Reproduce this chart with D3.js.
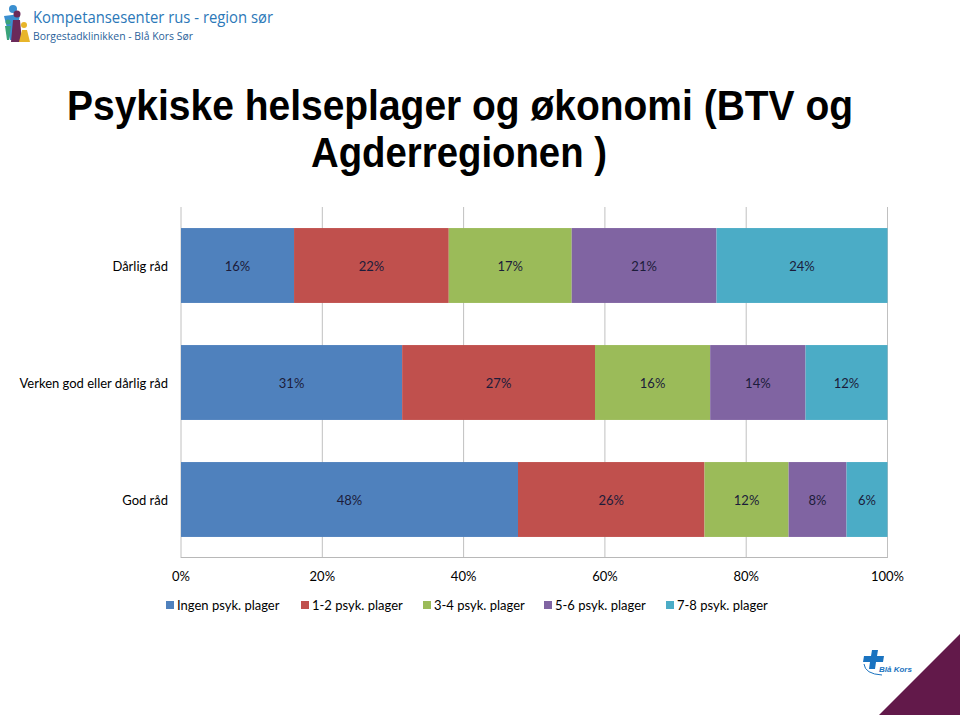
<!DOCTYPE html>
<html><head><meta charset="utf-8">
<script src="https://cdn.jsdelivr.net/npm/d3@7"></script>
<style>body{margin:0;background:#fff}svg{display:block}</style>
</head><body><svg id="c" width="960" height="715"></svg>
<script>
const categories = ["Dårlig råd", "Verken god eller dårlig råd", "God råd"];
const seriesNames = ["Ingen psyk. plager", "1-2 psyk. plager", "3-4 psyk. plager", "5-6 psyk. plager", "7-8 psyk. plager"];
const ingen = [16.0, 31.3, 47.7];
const p12 = [21.9, 27.3, 26.4];
const p34 = [17.4, 16.3, 11.9];
const p56 = [20.5, 13.5, 8.2];
const p78 = [24.2, 11.6, 5.8];
const ticks = [0, 20, 40, 60, 80, 100];
const colors = ["#4f81bd", "#c0504d", "#9bbb59", "#8064a2", "#4bacc6"];

const table = categories.map((c, i) => ({cat: c, v: [ingen[i], p12[i], p34[i], p56[i], p78[i]]}));
const svg = d3.select("#c");
const font = "Lato, 'Open Sans', sans-serif";

// header logo
const logo = svg.append("g");
logo.append("circle").attr("cx", 13).attr("cy", 9).attr("r", 4).attr("fill", "#3a8fd0");
logo.append("path").attr("d", "M4,16 L20,14 L16,40 L10,40 Z").attr("fill", "#3a8fd0");
logo.append("circle").attr("cx", 8).attr("cy", 22).attr("r", 2.5).attr("fill", "#3aa37a");
logo.append("path").attr("d", "M5,26 L11,26 L9,40 L7,40 Z").attr("fill", "#3aa37a");
logo.append("circle").attr("cx", 17).attr("cy", 14).attr("r", 3.5).attr("fill", "#6b2a5a");
logo.append("path").attr("d", "M13,20 L20,20 L22,42 L11,42 Z").attr("fill", "#6b2a5a");
logo.append("circle").attr("cx", 24).attr("cy", 25).attr("r", 3).attr("fill", "#e8b52a");
logo.append("path").attr("d", "M22,30 L27,30 L30,42 L19,42 Z").attr("fill", "#e8b52a");
svg.append("text").attr("x", 33).attr("y", 23).attr("font-family", "'Open Sans', sans-serif")
  .attr("font-size", 16).attr("fill", "#2b78b8").attr("textLength", 240).attr("lengthAdjust", "spacingAndGlyphs")
  .text("Kompetansesenter rus - region sør");
svg.append("text").attr("x", 33).attr("y", 40).attr("font-family", "'Open Sans', sans-serif")
  .attr("font-size", 11).attr("fill", "#2a5f9a").attr("textLength", 160).attr("lengthAdjust", "spacingAndGlyphs")
  .text("Borgestadklinikken - Blå Kors Sør");

// title
svg.append("text").attr("x", 67).attr("y", 120).attr("font-family", "'Liberation Sans', Arial, sans-serif")
  .attr("font-weight", "bold").attr("font-size", 42).attr("fill", "#000")
  .attr("textLength", 786).attr("lengthAdjust", "spacingAndGlyphs")
  .text("Psykiske helseplager og økonomi (BTV og");
svg.append("text").attr("x", 311).attr("y", 167).attr("font-family", "'Liberation Sans', Arial, sans-serif")
  .attr("font-weight", "bold").attr("font-size", 42).attr("fill", "#000")
  .attr("textLength", 296).attr("lengthAdjust", "spacingAndGlyphs")
  .text("Agderregionen )");

// chart
const x = d3.scaleLinear().domain([0, 100]).range([181, 887.5]);
const y = d3.scaleBand().domain(categories).range([207, 558]).paddingInner(0.36).paddingOuter(0.18);

const grid = svg.append("g");
grid.selectAll("line").data(ticks).join("line")
  .attr("x1", d => x(d)).attr("x2", d => x(d)).attr("y1", 207).attr("y2", 558)
  .attr("stroke", "#c0c0c0").attr("stroke-width", 1);
svg.append("line").attr("x1", 181).attr("x2", 887.5).attr("y1", 557.5).attr("y2", 557.5).attr("stroke", "#b8b8b8");

const rows = svg.append("g").selectAll("g").data(table).join("g");
rows.each(function(d) {
  let acc = 0;
  const segs = d.v.map((v, i) => { const s = {x0: acc, x1: acc + v, v, i}; acc += v; return s; });
  const g = d3.select(this);
  g.selectAll("rect").data(segs).join("rect")
    .attr("x", s => x(s.x0)).attr("width", s => x(s.x1) - x(s.x0))
    .attr("y", y(d.cat)).attr("height", y.bandwidth()).attr("fill", s => colors[s.i]);
  g.selectAll("text").data(segs).join("text")
    .attr("x", s => (x(s.x0) + x(s.x1)) / 2).attr("y", y(d.cat) + y.bandwidth() / 2 + 5)
    .attr("text-anchor", "middle").attr("font-family", font).attr("font-size", 13)
    .attr("fill", "#1c1c3a").text(s => Math.round(s.v) + "%");
});

// category labels
svg.append("g").selectAll("text").data(categories).join("text")
  .attr("x", 168).attr("y", c => y(c) + y.bandwidth() / 2 + 5).attr("text-anchor", "end")
  .attr("font-family", font).attr("font-size", 13).attr("fill", "#000").text(c => c);

// x tick labels
svg.append("g").selectAll("text").data(ticks).join("text")
  .attr("x", d => x(d)).attr("y", 581).attr("text-anchor", "middle")
  .attr("font-family", font).attr("font-size", 13).attr("fill", "#000").text(d => d + "%");

// legend
const legX = [166, 301, 423, 544, 666];
const leg = svg.append("g").selectAll("g").data(seriesNames).join("g")
  .attr("transform", (d, i) => `translate(${legX[i]},605)`);
leg.append("rect").attr("x", 0).attr("y", -4).attr("width", 8).attr("height", 8).attr("fill", (d, i) => colors[i]);
leg.append("text").attr("x", 11).attr("y", 5).attr("font-family", font).attr("font-size", 13)
  .attr("fill", "#000").text(d => d);

// bottom-right decoration
svg.append("path").attr("d", "M960,634 L960,715 L879,715 Z").attr("fill", "#62194a");
const bk = svg.append("g").attr("transform", "translate(862,648)");
bk.append("path").attr("d", "M10,2 L16,2 L15,8 L22,8 L21,14 L14,14 L13,21 L7,21 L8,14 L1,14 L2,8 L9,8 Z").attr("fill", "#1a73c0");
bk.append("path").attr("d", "M2,16 Q3,26 20,27").attr("fill", "none").attr("stroke", "#1a73c0").attr("stroke-width", 1);
bk.append("text").attr("x", 17).attr("y", 24).attr("font-family", "'Liberation Sans', sans-serif")
  .attr("font-size", 8).attr("font-weight", "bold").attr("font-style", "italic").attr("fill", "#1a73c0").text("Blå Kors");
</script></body></html>
